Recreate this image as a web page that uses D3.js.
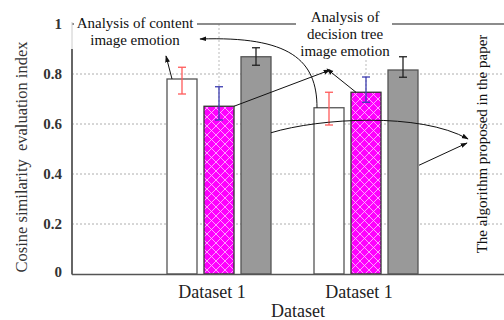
<!DOCTYPE html>
<html><head><meta charset="utf-8">
<script src="https://cdn.jsdelivr.net/npm/d3@7"></script>
<style>body{margin:0;background:#fff}svg{display:block}text{font-family:"Liberation Serif","Times New Roman",serif;white-space:pre}</style>
</head><body><svg id="c" width="504" height="320"></svg>
<script>
const categories = ["Dataset 1", "Dataset 1 "];
const categoryLabels = ["Dataset 1", "Dataset 1"];
const series = ["content", "decision", "proposed"];
const values = {
  content:  [0.78, 0.665],
  decision: [0.671, 0.727],
  proposed: [0.869, 0.816]
};
const errHigh = {
  content:  [0.827, 0.727],
  decision: [0.749, 0.788],
  proposed: [0.905, 0.869]
};
const errLow = {
  content:  [0.72, 0.596],
  decision: [0.616, 0.687],
  proposed: [0.835, 0.787]
};
const yTicks = [0, 0.2, 0.4, 0.6, 0.8, 1];
const yTickLabels = ["0", "0.2", "0.4", "0.6", "0.8", "1"];

const svg = d3.select("#c");
const y = d3.scaleLinear().domain([0, 1]).range([274, 24]);
const x = d3.scaleBand().domain(categories).range([145.5, 439.5]).padding(0);
const xs = d3.scaleBand().domain(series).range([0, 104]).paddingInner(7/37).paddingOuter(0);
const left = 72, right = 504;

const defs = svg.append("defs");
const pat = defs.append("pattern").attr("id","hatch").attr("patternUnits","userSpaceOnUse")
  .attr("width",9).attr("height",9);
pat.append("rect").attr("width",9).attr("height",9).attr("fill","#ff00ff");
pat.append("path").attr("d","M0,0L9,9M9,0L0,9").attr("stroke","#ffc8ff").attr("stroke-width",0.8);
const mk = defs.append("marker").attr("id","arr").attr("viewBox","0 0 10 10").attr("refX",9).attr("refY",5)
  .attr("markerWidth",7).attr("markerHeight",7).attr("orient","auto-start-reverse");
mk.append("path").attr("d","M0,1.5L10,5L0,8.5Z").attr("fill","#111");

// horizontal gridlines
svg.append("g").selectAll("line").data(yTicks.filter(t => t > 0 && t < 1)).join("line")
  .attr("x1", left).attr("x2", right).attr("y1", d => y(d)).attr("y2", d => y(d))
  .attr("stroke", "#999").attr("stroke-width", 0.8).attr("stroke-dasharray", "2,2");
// vertical gridlines at category centers
svg.append("g").selectAll("line").data(categories).join("line")
  .attr("x1", d => x(d) + x.bandwidth()/2).attr("x2", d => x(d) + x.bandwidth()/2)
  .attr("y1", y(1)).attr("y2", y(0))
  .attr("stroke", "#aaa").attr("stroke-width", 0.8).attr("stroke-dasharray", "2,2");
// top line at 1
svg.append("line").attr("x1", left).attr("x2", right).attr("y1", y(1)).attr("y2", y(1))
  .attr("stroke", "#666").attr("stroke-width", 1.5);

// bars
const fills = {content: "#fff", decision: "url(#hatch)", proposed: "#999"};
const strokes = {content: "#555", decision: "#333", proposed: "#555"};
const errColors = {content: "#ff5a5a", decision: "#3b3bb0", proposed: "#222"};
const bw = xs.bandwidth();
const gx = i => x(categories[i]) + x.bandwidth()/2 - 52;
series.forEach(s => {
  const g = svg.append("g");
  g.selectAll("rect").data(values[s]).join("rect")
    .attr("x", (d, i) => gx(i) + xs(s)).attr("width", bw)
    .attr("y", d => y(d)).attr("height", d => y(0) - y(d))
    .attr("fill", fills[s]).attr("stroke", strokes[s]).attr("stroke-width", 1.3);
  const e = svg.append("g").attr("stroke", errColors[s]).attr("stroke-width", 1.3).attr("fill","none");
  values[s].forEach((v, i) => {
    const cx = gx(i) + xs(s) + bw/2;
    e.append("line").attr("x1", cx).attr("x2", cx).attr("y1", y(errHigh[s][i])).attr("y2", y(errLow[s][i]));
    e.append("line").attr("x1", cx-4).attr("x2", cx+4).attr("y1", y(errHigh[s][i])).attr("y2", y(errHigh[s][i]));
    e.append("line").attr("x1", cx-4).attr("x2", cx+4).attr("y1", y(errLow[s][i])).attr("y2", y(errLow[s][i]));
  });
});

// axes
svg.append("line").attr("x1", left).attr("x2", left).attr("y1", y(0)).attr("y2", y(1) - 2)
  .attr("stroke", "#ccc").attr("stroke-width", 1);
svg.append("line").attr("x1", left).attr("x2", left).attr("y1", y(0)+0.5).attr("y2", y(0.9))
  .attr("stroke", "#666").attr("stroke-width", 2);
svg.append("line").attr("x1", left).attr("x2", right).attr("y1", y(0)+0.5).attr("y2", y(0)+0.5)
  .attr("stroke", "#555").attr("stroke-width", 1.6);

svg.append("g").selectAll("text").data(yTicks).join("text")
  .attr("x", 62).attr("y", d => y(d) + 5 - (d === 0 ? 2 : 0)).attr("text-anchor", "end")
  .attr("font-size", 15).attr("font-weight", "bold").attr("fill", "#333")
  .text((d, i) => yTickLabels[i]);

svg.append("g").selectAll("text").data(categories).join("text")
  .attr("x", (d, i) => x(d) + x.bandwidth()/2 - 7).attr("y", 298).attr("text-anchor", "middle")
  .attr("font-size", 18).attr("fill", "#222").text((d, i) => categoryLabels[i]);
svg.append("text").attr("x", 298).attr("y", 317).attr("text-anchor", "middle")
  .attr("font-size", 18).attr("fill", "#222").text("Dataset");
svg.append("text").attr("transform", "translate(27,157) rotate(-90)").attr("text-anchor", "middle")
  .attr("font-size", 16.5).attr("fill", "#333").text("Cosine similarity  evaluation index");

// annotation boxes
svg.append("rect").attr("x", 74).attr("y", 10).attr("width", 123).attr("height", 40).attr("fill", "#fff");
svg.append("rect").attr("x", 296).attr("y", 0).attr("width", 96).attr("height", 60).attr("fill", "#fff");
const ann = svg.append("g").attr("font-size", 15).attr("fill", "#111").attr("text-anchor", "middle");
ann.append("text").attr("x", 135).attr("y", 28).text("Analysis of content");
ann.append("text").attr("x", 135).attr("y", 45).text("image emotion");
ann.append("text").attr("x", 345).attr("y", 22).text("Analysis of");
ann.append("text").attr("x", 345).attr("y", 39).text("decision tree");
ann.append("text").attr("x", 345).attr("y", 56).text("image emotion");
svg.append("text").attr("transform", "translate(487,144) rotate(-90)").attr("text-anchor", "middle")
  .attr("font-size", 15).attr("fill", "#111").text("The algorithm proposed in the paper");

// arrows anchored to bars
const bx = (s, i) => gx(i) + xs(s);
const ar = svg.append("g").attr("fill", "none").attr("stroke", "#111").attr("stroke-width", 1);
const p = (d) => ar.append("path").attr("d", d).attr("marker-end", "url(#arr)");
p(`M${bx("content",0)+5},${y(values.content[0])} L166,56`);
p(`M${bx("content",1)+3},${y(values.content[1])} C${bx("content",1)+3},60 290,36 200,39`);
p(`M${bx("decision",0)+bw},${y(values.decision[0])} L330,70`);
p(`M${bx("decision",1)+5},${y(values.decision[1])} L327,69`);
p(`M${bx("proposed",0)+bw},${y(0.565)} C320,118 420,112 468,139`);
p(`M${bx("proposed",1)+bw+1},${y(0.435)} L467,143`);
</script></body></html>
